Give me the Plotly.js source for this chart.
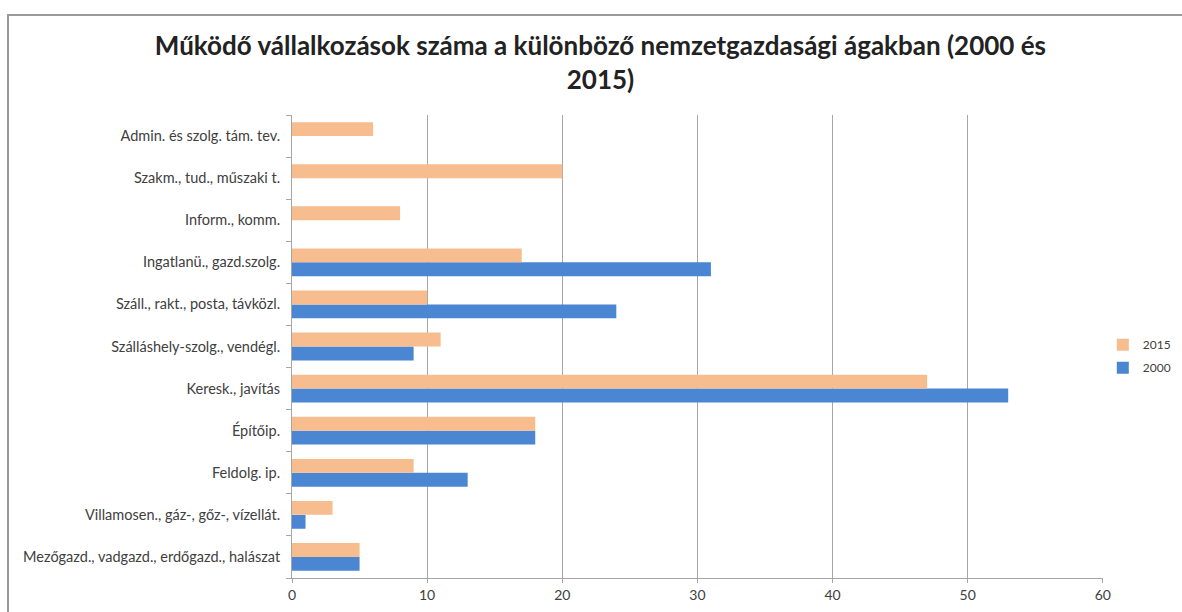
<!DOCTYPE html>
<html>
<head>
<meta charset="utf-8">
<script src="https://cdn.plot.ly/plotly-3.0.1.min.js"></script>
<style>
html,body{margin:0;padding:0;background:#fff;}
#wrap{position:relative;width:1182px;height:612px;overflow:hidden;}
#frame{position:absolute;left:7px;top:14px;width:1200px;height:640px;border-left:2px solid #9a9a9a;border-top:2px solid #9a9a9a;pointer-events:none;}
#chart{position:absolute;left:0;top:0;width:1182px;height:612px;}
</style>
</head>
<body>
<div id="wrap">
<div id="chart"></div>
<div id="frame"></div>
</div>
<script>
const categories = [
  "Mezőgazd., vadgazd., erdőgazd., halászat",
  "Villamosen., gáz-, gőz-, vízellát.",
  "Feldolg. ip.",
  "Építőip.",
  "Keresk., javítás",
  "Szálláshely-szolg., vendégl.",
  "Száll., rakt., posta, távközl.",
  "Ingatlanü., gazd.szolg.",
  "Inform., komm.",
  "Szakm., tud., műszaki t.",
  "Admin. és szolg. tám. tev."
];
const values2000 = [5, 1, 13, 18, 53, 9, 24, 31, null, null, null];
const values2015 = [5, 3, 9, 18, 47, 11, 10, 17, 8, 20, 6];
const xTicks = [0, 10, 20, 30, 40, 50, 60];
const seriesNames = ["2000", "2015"];

const fontFam = "Lato, 'Open Sans', 'DejaVu Sans', sans-serif";

const traces = [
  {type:'bar', orientation:'h', name:seriesNames[0], y:categories, x:values2000,
   marker:{color:'#4A86D1'}, legendgroup:'a', legendrank:2, hoverinfo:'x+y'},
  {type:'bar', orientation:'h', name:seriesNames[1], y:categories, x:values2015,
   marker:{color:'#F7BD8E'}, legendgroup:'b', legendrank:1, hoverinfo:'x+y'}
];

const layout = {
  width:1182, height:612,
  margin:{l:292, r:79, t:115, b:34},
  paper_bgcolor:'rgba(0,0,0,0)', plot_bgcolor:'rgba(0,0,0,0)',
  title:{text:'Működő vállalkozások száma a különböző nemzetgazdasági ágakban (2000 és<br>2015)',
    font:{family:fontFam, size:26, color:'#222', weight:'bold'},
    x:0.508, xanchor:'center', yref:'container', y:0.91, yanchor:'middle'},
  barmode:'group', bargap:0.34, bargroupgap:0,
  xaxis:{range:[0,60], tickvals:xTicks, ticktext:xTicks.map(String),
    showgrid:true, gridcolor:'#a6a6a6', gridwidth:1,
    showline:true, linecolor:'#a6a6a6', linewidth:1,
    ticks:'outside', ticklen:4, tickcolor:'#a6a6a6',
    zeroline:false, fixedrange:true,
    tickfont:{family:fontFam, size:14, color:'#404040'}},
  yaxis:{type:'category', categoryorder:'array', categoryarray:categories,
    showline:true, linecolor:'#a6a6a6', linewidth:1,
    ticks:'outside', ticklen:5, tickcolor:'#a6a6a6', tickson:'boundaries',
    showgrid:false, fixedrange:true, ticklabelstandoff:8,
    tickfont:{family:fontFam, size:14.5, color:'#404040'}},
  showlegend:true,
  legend:{xref:'container', yref:'container', x:0.933, xanchor:'left', y:0.418, yanchor:'middle',
    traceorder:'grouped', tracegroupgap:4,
    font:{family:fontFam, size:12, color:'#404040'},
    itemwidth:30, bgcolor:'rgba(0,0,0,0)'}
};

Plotly.newPlot('chart', traces, layout, {displayModeBar:false, staticPlot:true});
</script>
</body>
</html>
